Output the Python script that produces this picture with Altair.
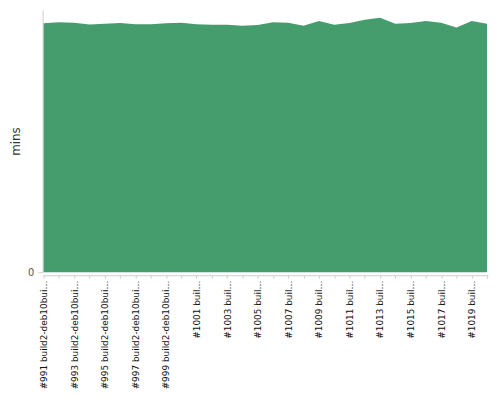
import altair as alt
import pandas as pd

builds = [
    "#991 build2-deb10bui…", "#992 build2-deb10bui…", "#993 build2-deb10bui…",
    "#994 build2-deb10bui…", "#995 build2-deb10bui…", "#996 build2-deb10bui…",
    "#997 build2-deb10bui…", "#998 build2-deb10bui…", "#999 build2-deb10bui…",
    "#1000 buil…", "#1001 buil…", "#1002 buil…", "#1003 buil…", "#1004 buil…",
    "#1005 buil…", "#1006 buil…", "#1007 buil…", "#1008 buil…", "#1009 buil…",
    "#1010 buil…", "#1011 buil…", "#1012 buil…", "#1013 buil…", "#1014 buil…",
    "#1015 buil…", "#1016 buil…", "#1017 buil…", "#1018 buil…", "#1019 buil…",
    "#1020 buil…",
]
mins = [
    18.98, 19.07, 19.02, 18.89, 18.94, 19.00, 18.91, 18.91, 18.98, 19.02,
    18.91, 18.87, 18.87, 18.79, 18.85, 19.07, 19.02, 18.79, 19.15, 18.87,
    19.00, 19.26, 19.40, 18.94, 19.00, 19.15, 19.02, 18.66, 19.15, 18.94,
]

df = pd.DataFrame({"build": builds, "mins": mins})

chart = alt.Chart(df).mark_area(color="#459d6e", opacity=1).encode(
    x=alt.X(
        "build:N",
        sort=builds,
        scale=alt.Scale(type="point", padding=0.065),
        axis=alt.Axis(
            title=None,
            offset=3,
            labelAngle=-90,
            labelAlign="right",
            labelBaseline="middle",
            labelFontSize=9,
            labelFont="DejaVu Sans",
            labelColor="#111",
            labelLimit=300,
            labelPadding=2,
            labelOverlap=False,
            labelExpr="parseInt(substring(datum.value, 1, 5)) % 2 == 1 ? datum.label : ''",
            tickSize=3,
            tickColor="#ccc",
            domainColor="#ccc",
            grid=False,
        ),
    ),
    y=alt.Y(
        "mins:Q",
        scale=alt.Scale(domain=[0, 20], nice=False),
        axis=alt.Axis(
            title="mins",
            titleFont="DejaVu Sans",
            titleFontSize=12,
            titleFontWeight="normal",
            titleColor="#333",
            titlePadding=5,
            values=[0],
            labelFont="DejaVu Sans",
            labelFontSize=10,
            labelColor="#555",
            labelPadding=4,
            tickSize=5,
            tickColor="#ccc",
            domainColor="#ccc",
            grid=False,
        ),
    ),
).properties(
    width=450,
    height=265,
    padding={"left": 1, "top": 0, "right": 0, "bottom": 0},
).configure_view(stroke=None)

chart.save("out.html", embed_options={"renderer": "svg", "actions": False})
